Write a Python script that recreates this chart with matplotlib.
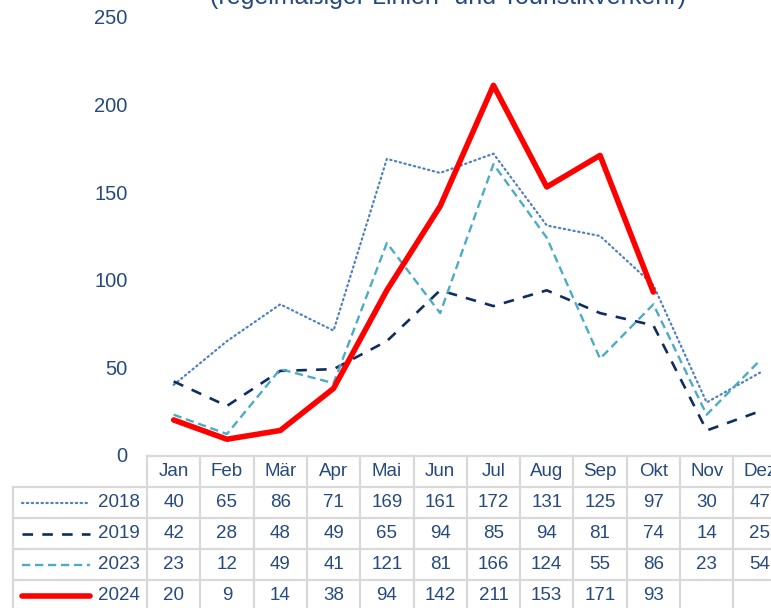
import matplotlib
matplotlib.use('Agg')
from matplotlib import pyplot as plt
from matplotlib.lines import Line2D
import numpy as np

plt.rcParams['font.family'] = ['Liberation Sans', 'DejaVu Sans']

months = ['Jan', 'Feb', 'Mär', 'Apr', 'Mai', 'Jun', 'Jul', 'Aug', 'Sep', 'Okt', 'Nov', 'Dez']
v2018 = [40, 65, 86, 71, 169, 161, 172, 131, 125, 97, 30, 47]
v2019 = [42, 28, 48, 49, 65, 94, 85, 94, 81, 74, 14, 25]
v2023 = [23, 12, 49, 41, 121, 81, 166, 124, 55, 86, 23, 54]
v2024 = [20, 9, 14, 38, 94, 142, 211, 153, 171, 93]
jahre = ['2018', '2019', '2023', '2024']
untertitel = '(regelmäßiger Linien- und Touristikverkehr)'

TXT = '#264a7e'
GRID = '#d9d9d9'
W, H = 771, 608

stile = [
    dict(color='#4f81bd', lw=1.6, ls=(0, (0.6, 1.6)), dash_capstyle='round'),
    dict(color='#0f2d5f', lw=1.9, ls=(0, (4, 3.5))),
    dict(color='#4bacc6', lw=1.7, ls=(0, (3.5, 2))),
    dict(color='#ff0000', lw=4.0, ls='-', solid_capstyle='round'),
]
reihen = [v2018, v2019, v2023, v2024]

fig = plt.figure(figsize=(W / 100, H / 100), dpi=100)

# axes reaches past the right edge (the original is cropped there)
x0, x1 = 147, 147 + 12 * 53.3
y0, y1 = 455, 17
ax = fig.add_axes([x0 / W, 1 - y0 / H, (x1 - x0) / W, (y0 - y1) / H])

x = np.arange(len(months))
for werte, st in zip(reihen, stile):
    ax.plot(x[:len(werte)], werte, **st)

ax.set_xlim(-0.5, 11.5)
ax.set_ylim(0, 250)
ax.set_yticks(range(0, 251, 50))
ax.tick_params(axis='y', length=0, pad=14, labelsize=14.5, labelcolor=TXT)
ax.set_xticks([])
for s in ax.spines.values():
    s.set_visible(False)

fig.text(448 / W, 1 - (-3) / H, untertitel, ha='center', va='center',
         fontsize=18, color=TXT)

# --- table below the plot ---
def fy(p):
    return 1 - p / H


def fx(p):
    return p / W


row_lines = [456, 487, 518, 549, 580, 611]
col_w = 53.3
gl = dict(color=GRID, lw=1.6, transform=fig.transFigure, clip_on=False)
# header top only over month columns
fig.add_artist(Line2D([fx(x0), fx(x0 + 12 * col_w)], [fy(456), fy(456)], **gl))
for r in row_lines[1:]:
    fig.add_artist(Line2D([fx(13), fx(x0 + 12 * col_w)], [fy(r), fy(r)], **gl))
for i in range(13):
    xx = x0 + i * col_w
    fig.add_artist(Line2D([fx(xx), fx(xx)], [fy(456), fy(611)], **gl))
fig.add_artist(Line2D([fx(13), fx(13)], [fy(487), fy(611)], **gl))

# header labels
for i, m in enumerate(months):
    cx = x0 + (i + 0.5) * col_w
    fig.text(fx(cx), fy(471), m, ha='center', va='center', fontsize=13.5, color=TXT)

for j, (jahr, werte, st) in enumerate(zip(jahre, reihen, stile)):
    cy = (row_lines[j + 1] + row_lines[j + 2]) / 2
    # legend key line
    kw = {k: v for k, v in st.items() if k != 'ls'}
    fig.add_artist(Line2D([fx(22), fx(90)], [fy(cy), fy(cy)], linestyle=st['ls'],
                          transform=fig.transFigure, clip_on=False, **kw))
    fig.text(fx(140), fy(cy), jahr, ha='right', va='center', fontsize=13.5, color=TXT)
    for i, v in enumerate(werte):
        cx = x0 + (i + 0.5) * col_w
        fig.text(fx(cx), fy(cy), str(v), ha='center', va='center', fontsize=13.5, color=TXT)

plt.savefig('out.png', dpi=100)
plt.close(fig)
